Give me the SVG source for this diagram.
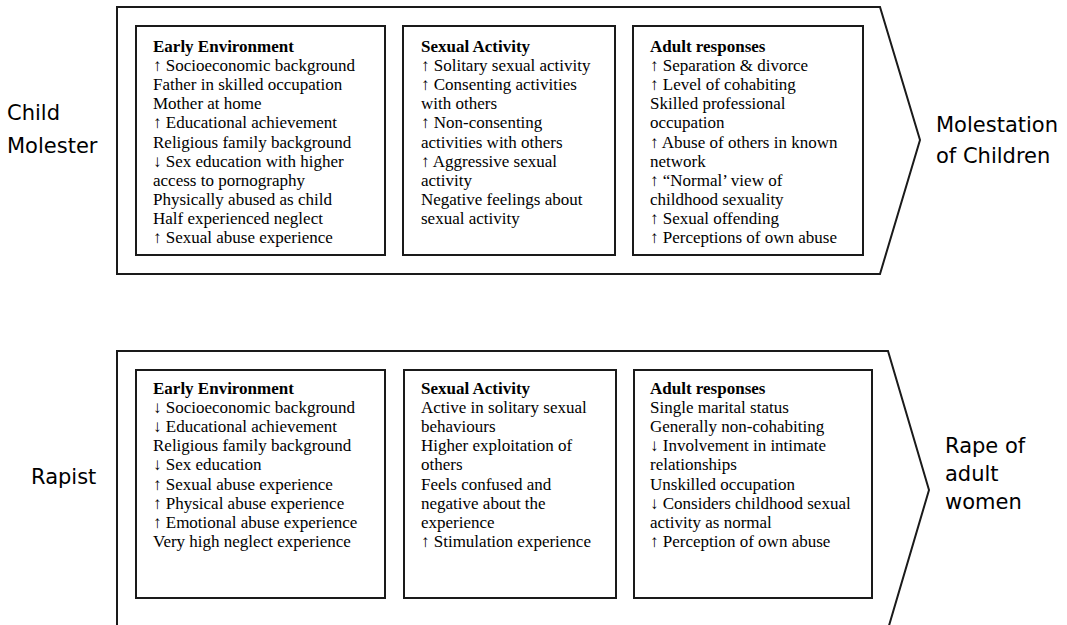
<svg xmlns="http://www.w3.org/2000/svg" width="1067" height="625" viewBox="0 0 1067 625">
  <style>
    .frame { fill: none; stroke: #1a1a1a; stroke-width: 2; stroke-linejoin: miter; }
    .box { fill: #ffffff; stroke: #1a1a1a; stroke-width: 2; }
    .body { font-family: "Liberation Serif", "Times New Roman", serif; font-size: 17px; fill: #000; }
    .head { font-weight: bold; }
    .label { font-family: "DejaVu Sans", Verdana, sans-serif; font-size: 21px; fill: #000; }
  </style>
  <rect width="1067" height="625" fill="#ffffff"/>

  <!-- Child molester pathway -->
  <g id="child-molester">
    <path class="frame" d="M117,7 H880 L920,140 L880,274 H117 Z"/>
    <text class="label" x="7" y="120">Child</text>
    <text class="label" x="7" y="153">Molester</text>
    <text class="label" x="936" y="132">Molestation</text>
    <text class="label" x="936" y="163">of Children</text>
  </g>

  <g id="cm-early-environment">
    <rect class="box" x="136" y="26" width="249" height="229"/>
    <text class="body" x="153" y="52">
      <tspan class="head" x="153">Early Environment</tspan>
      <tspan x="153" dy="19.1">↑ Socioeconomic background</tspan>
      <tspan x="153" dy="19.1">Father in skilled occupation</tspan>
      <tspan x="153" dy="19.1">Mother at home</tspan>
      <tspan x="153" dy="19.1">↑ Educational achievement</tspan>
      <tspan x="153" dy="19.1">Religious family background</tspan>
      <tspan x="153" dy="19.1">↓ Sex education with higher</tspan>
      <tspan x="153" dy="19.1">access to pornography</tspan>
      <tspan x="153" dy="19.1">Physically abused as child</tspan>
      <tspan x="153" dy="19.1">Half experienced neglect</tspan>
      <tspan x="153" dy="19.1">↑ Sexual abuse experience</tspan>
    </text>
  </g>

  <g id="cm-sexual-activity">
    <rect class="box" x="403" y="26" width="212" height="229"/>
    <text class="body" x="421" y="52">
      <tspan class="head" x="421">Sexual Activity</tspan>
      <tspan x="421" dy="19.1">↑ Solitary sexual activity</tspan>
      <tspan x="421" dy="19.1">↑ Consenting activities</tspan>
      <tspan x="421" dy="19.1">with others</tspan>
      <tspan x="421" dy="19.1">↑ Non-consenting</tspan>
      <tspan x="421" dy="19.1">activities with others</tspan>
      <tspan x="421" dy="19.1">↑ Aggressive sexual</tspan>
      <tspan x="421" dy="19.1">activity</tspan>
      <tspan x="421" dy="19.1">Negative feelings about</tspan>
      <tspan x="421" dy="19.1">sexual activity</tspan>
    </text>
  </g>

  <g id="cm-adult-responses">
    <rect class="box" x="633" y="26" width="230" height="229"/>
    <text class="body" x="650" y="52">
      <tspan class="head" x="650">Adult responses</tspan>
      <tspan x="650" dy="19.1">↑ Separation &amp; divorce</tspan>
      <tspan x="650" dy="19.1">↑ Level of cohabiting</tspan>
      <tspan x="650" dy="19.1">Skilled professional</tspan>
      <tspan x="650" dy="19.1">occupation</tspan>
      <tspan x="650" dy="19.1">↑ Abuse of others in known</tspan>
      <tspan x="650" dy="19.1">network</tspan>
      <tspan x="650" dy="19.1">↑ “Normal’ view of</tspan>
      <tspan x="650" dy="19.1">childhood sexuality</tspan>
      <tspan x="650" dy="19.1">↑ Sexual offending</tspan>
      <tspan x="650" dy="19.1">↑ Perceptions of own abuse</tspan>
    </text>
  </g>

  <!-- Rapist pathway -->
  <g id="rapist">
    <path class="frame" d="M117,351 H888 L929,490 L888,629 H117 Z"/>
    <text class="label" x="31" y="484">Rapist</text>
    <text class="label" x="945" y="453">Rape of</text>
    <text class="label" x="945" y="481">adult</text>
    <text class="label" x="945" y="509">women</text>
  </g>

  <g id="r-early-environment">
    <rect class="box" x="136" y="370" width="249" height="228"/>
    <text class="body" x="153" y="394">
      <tspan class="head" x="153">Early Environment</tspan>
      <tspan x="153" dy="19.1">↓ Socioeconomic background</tspan>
      <tspan x="153" dy="19.1">↓ Educational achievement</tspan>
      <tspan x="153" dy="19.1">Religious family background</tspan>
      <tspan x="153" dy="19.1">↓ Sex education</tspan>
      <tspan x="153" dy="19.1">↑ Sexual abuse experience</tspan>
      <tspan x="153" dy="19.1">↑ Physical abuse experience</tspan>
      <tspan x="153" dy="19.1">↑ Emotional abuse experience</tspan>
      <tspan x="153" dy="19.1">Very high neglect experience</tspan>
    </text>
  </g>

  <g id="r-sexual-activity">
    <rect class="box" x="404" y="370" width="212" height="228"/>
    <text class="body" x="421" y="394">
      <tspan class="head" x="421">Sexual Activity</tspan>
      <tspan x="421" dy="19.1">Active in solitary sexual</tspan>
      <tspan x="421" dy="19.1">behaviours</tspan>
      <tspan x="421" dy="19.1">Higher exploitation of</tspan>
      <tspan x="421" dy="19.1">others</tspan>
      <tspan x="421" dy="19.1">Feels confused and</tspan>
      <tspan x="421" dy="19.1">negative about the</tspan>
      <tspan x="421" dy="19.1">experience</tspan>
      <tspan x="421" dy="19.1">↑ Stimulation experience</tspan>
    </text>
  </g>

  <g id="r-adult-responses">
    <rect class="box" x="634" y="370" width="238" height="228"/>
    <text class="body" x="650" y="394">
      <tspan class="head" x="650">Adult responses</tspan>
      <tspan x="650" dy="19.1">Single marital status</tspan>
      <tspan x="650" dy="19.1">Generally non-cohabiting</tspan>
      <tspan x="650" dy="19.1">↓ Involvement in intimate</tspan>
      <tspan x="650" dy="19.1">relationships</tspan>
      <tspan x="650" dy="19.1">Unskilled occupation</tspan>
      <tspan x="650" dy="19.1">↓ Considers childhood sexual</tspan>
      <tspan x="650" dy="19.1">activity as normal</tspan>
      <tspan x="650" dy="19.1">↑ Perception of own abuse</tspan>
    </text>
  </g>

  <!-- no connectors between nodes: each pathway is a self-contained chevron -->
  <g id="connectors"/>
</svg>
